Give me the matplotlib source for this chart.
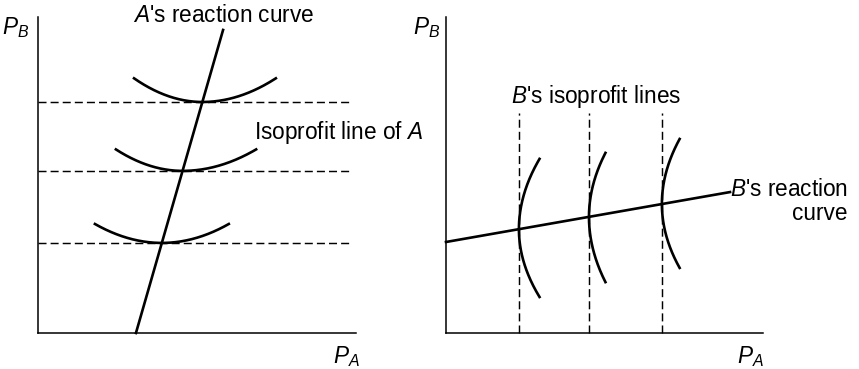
import numpy as np
import matplotlib
matplotlib.use('Agg')
import matplotlib.pyplot as plt

plt.rcParams['font.family'] = ['Liberation Sans', 'DejaVu Sans']
plt.rcParams['mathtext.fontset'] = 'custom'
plt.rcParams['mathtext.rm'] = 'Liberation Sans'
plt.rcParams['mathtext.it'] = 'Liberation Sans:italic'

# --- left panel: A's isoprofit levels (horizontal) and reaction curve
a_levels = [2.85, 5.13, 7.31]
a_react_x = [3.08, 5.82]
a_react_y = [0.0, 9.59]
a_arc_left = [1.79, 2.45, 3.02]     # x where arc starts
a_arc_right = [6.00, 6.86, 7.48]    # x where arc ends
a_arc_rise = [0.60, 0.68, 0.75]     # how far arc ends rise above level
a_dash_end = 9.81

# --- right panel: B's isoprofit levels (vertical) and reaction curve
b_levels = [2.30, 4.51, 6.81]
b_react_x = [0.0, 8.96]
b_react_y = [2.88, 4.46]
b_arc_top = [5.51, 5.70, 6.14]
b_arc_bot = [1.14, 1.61, 2.06]
b_arc_rise = [0.65, 0.52, 0.56]
b_dash_top = 6.96

W, H = 859, 369
fig = plt.figure(figsize=(W / 100, H / 100), dpi=100)

def make_ax(x0, x1, y0, y1):
    ax = fig.add_axes([x0 / W, (H - y1) / H, (x1 - x0) / W, (y1 - y0) / H])
    ax.set_xlim(0, 10); ax.set_ylim(0, 10)
    for s in ['top', 'right']:
        ax.spines[s].set_visible(False)
    for s in ['left', 'bottom']:
        ax.spines[s].set_linewidth(1.1)
    ax.set_xticks([]); ax.set_yticks([])
    ax.patch.set_alpha(0)
    return ax

dash = (0, (5.5, 2.8))
fs = 16.3
lw_curve = 1.9
lw_dash = 1.05

# left
ax1 = make_ax(38, 356, 17, 333)
slope_a = (a_react_x[1] - a_react_x[0]) / (a_react_y[1] - a_react_y[0])
for lev, xl, xr, rise in zip(a_levels, a_arc_left, a_arc_right, a_arc_rise):
    ax1.plot([0, a_dash_end], [lev, lev], color='black', lw=lw_dash, ls=dash, clip_on=False)
    xc = a_react_x[0] + slope_a * lev
    xs = np.linspace(xl, xr, 200)
    half = np.where(xs < xc, xc - xl, xr - xc)
    ax1.plot(xs, lev + rise * ((xs - xc) / half) ** 2, color='black', lw=lw_curve, clip_on=False)
ax1.plot(a_react_x, a_react_y, color='black', lw=lw_curve, clip_on=False)

ax1.text(5.85, 10.06, "$\\mathit{A}$'s reaction curve", fontsize=fs, ha='center', va='center')
ax1.text(6.78, 6.33, "Isoprofit line of $\\mathit{A}$", fontsize=fs, ha='left', va='center')
ax1.text(-0.69, 9.68, "$P_B$", fontsize=fs, ha='center', va='center')
ax1.text(9.69, -0.76, "$P_A$", fontsize=fs, ha='center', va='center')

# right
ax2 = make_ax(446, 763, 17, 333)
slope_b = (b_react_y[1] - b_react_y[0]) / (b_react_x[1] - b_react_x[0])
for lev, yt, yb, rise in zip(b_levels, b_arc_top, b_arc_bot, b_arc_rise):
    ax2.plot([lev, lev], [0, b_dash_top], color='black', lw=lw_dash, ls=dash, clip_on=False)
    yc = b_react_y[0] + slope_b * lev
    ys = np.linspace(yb, yt, 200)
    half = np.where(ys < yc, yc - yb, yt - yc)
    ax2.plot(lev + rise * ((ys - yc) / half) ** 2, ys, color='black', lw=lw_curve, clip_on=False)
ax2.plot(b_react_x, b_react_y, color='black', lw=lw_curve, clip_on=False)

ax2.text(4.72, 7.47, "$\\mathit{B}$'s isoprofit lines", fontsize=fs, ha='center', va='center')
ax2.text(8.96, 4.53, "$\\mathit{B}$'s reaction", fontsize=fs, ha='left', va='center')
ax2.text(12.65, 3.77, "curve", fontsize=fs, ha='right', va='center')
ax2.text(-0.6, 9.68, "$P_B$", fontsize=fs, ha='center', va='center')
ax2.text(9.59, -0.76, "$P_A$", fontsize=fs, ha='center', va='center')

fig.savefig('out.png', dpi=100)
